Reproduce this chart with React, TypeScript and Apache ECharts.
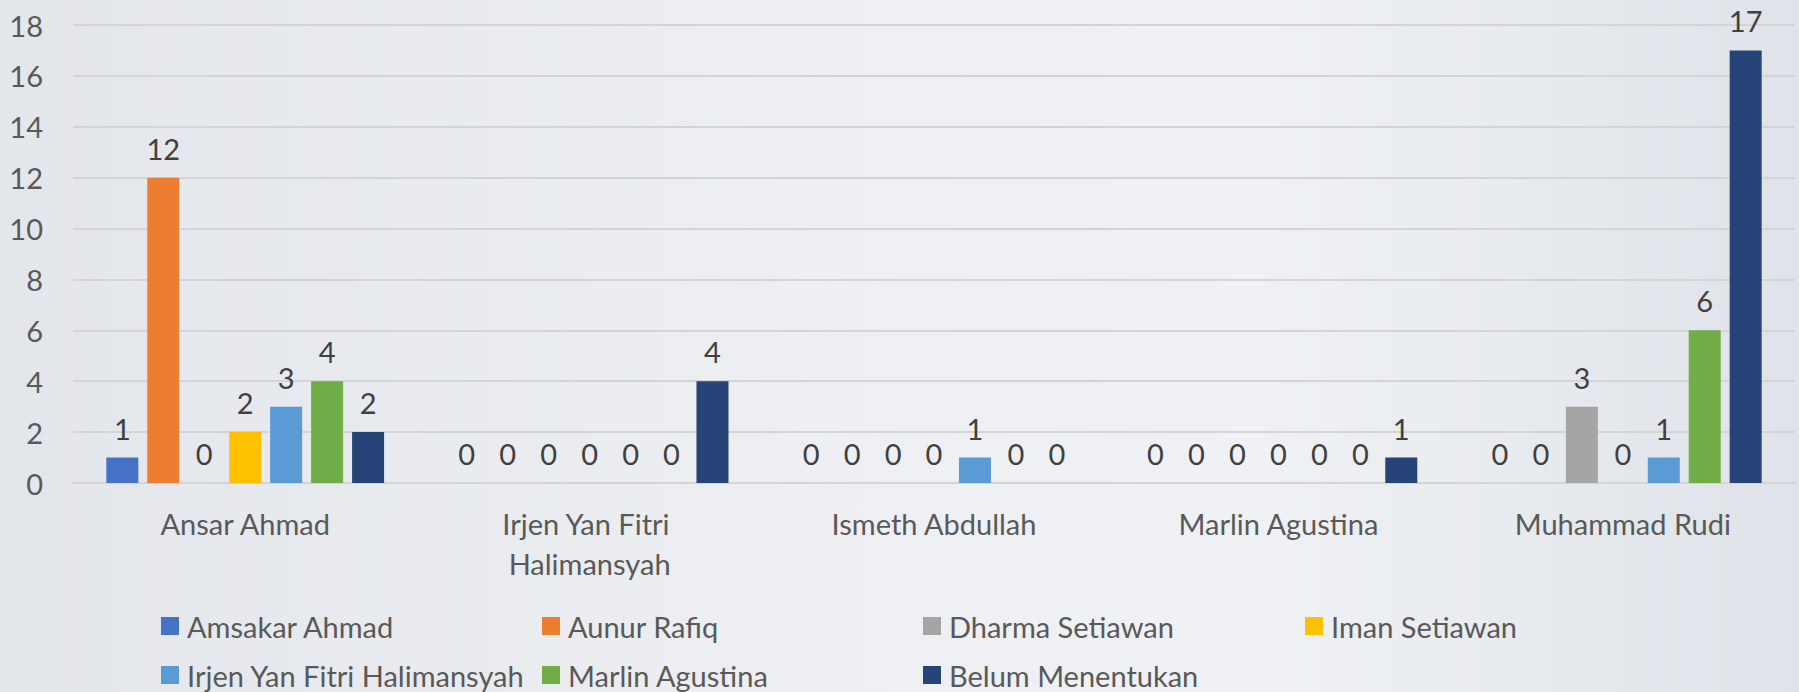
import React, { useEffect, useRef } from "react";
import * as echarts from "echarts";

const categories = [
  "Ansar Ahmad",
  "Irjen Yan Fitri Halimansyah",
  "Ismeth Abdullah",
  "Marlin Agustina",
  "Muhammad Rudi",
];

const seriesNames = [
  "Amsakar Ahmad",
  "Aunur Rafiq",
  "Dharma Setiawan",
  "Iman Setiawan",
  "Irjen Yan Fitri Halimansyah",
  "Marlin Agustina",
  "Belum Menentukan",
];

const amsakarAhmad = [1, 0, 0, 0, 0];
const aunurRafiq = [12, 0, 0, 0, 0];
const dharmaSetiawan = [0, 0, 0, 0, 3];
const imanSetiawan = [2, 0, 0, 0, 0];
const irjenYanFitri = [3, 0, 1, 0, 1];
const marlinAgustina = [4, 0, 0, 0, 6];
const belumMenentukan = [2, 4, 0, 1, 17];

const seriesValues = [
  amsakarAhmad,
  aunurRafiq,
  dharmaSetiawan,
  imanSetiawan,
  irjenYanFitri,
  marlinAgustina,
  belumMenentukan,
];

const colors = ["#4472C4", "#ED7D31", "#A5A5A5", "#FFC000", "#5B9BD5", "#70AD47", "#264478"];

const yTicks = { min: 0, max: 18, interval: 2 };

const FONT = "Lato, 'Noto Sans', sans-serif";
const FS = 29;

// legend positions (layout only)
const legendPos = [
  [161, 611],
  [542, 611],
  [923, 611],
  [1305, 611],
  [161, 660],
  [542, 660],
  [923, 660],
];

export default function App() {
  const ref = useRef<HTMLDivElement>(null);

  useEffect(() => {
    document.body.style.margin = "0";
    if (!ref.current) return;
    const chart = echarts.init(ref.current, undefined, { renderer: "svg" });

    const option: any = {
      animation: false,
      backgroundColor: new echarts.graphic.LinearGradient(0, 0, 1, 0, [
        { offset: 0, color: "#e3e6eb" },
        { offset: 0.45, color: "#edeff2" },
        { offset: 0.7, color: "#eff1f4" },
        { offset: 1, color: "#dfe3e9" },
      ]),
      textStyle: { fontFamily: FONT },
      grid: { left: 73, right: 4, top: 25, bottom: 209, containLabel: false },
      legend: seriesNames.map((name, i) => ({
        data: [name],
        left: legendPos[i][0],
        top: legendPos[i][1],
        padding: 0,
        itemWidth: 18,
        itemHeight: 18,
        icon: "rect",
        selectedMode: false,
        textStyle: {
          fontFamily: FONT,
          fontSize: FS,
          color: "#595959",
          lineHeight: 30,
          padding: [0, 0, 0, 3],
        },
      })),
      xAxis: {
        type: "category",
        data: categories,
        axisLine: { show: true, lineStyle: { color: "#d4d4d4", width: 2 } },
        axisTick: { show: false },
        axisLabel: {
          interval: 0,
          fontFamily: FONT,
          fontSize: FS,
          color: "#595959",
          lineHeight: 40,
          margin: 20,
          width: 270,
          overflow: "break",
        },
      },
      yAxis: {
        type: "value",
        min: yTicks.min,
        max: yTicks.max,
        interval: yTicks.interval,
        axisLine: { show: false },
        axisTick: { show: false },
        splitLine: { lineStyle: { color: "#d4d4d4", width: 2 } },
        axisLabel: {
          fontFamily: FONT,
          fontSize: FS,
          color: "#595959",
          margin: 30,
        },
      },
      series: seriesNames.map((name, i) => ({
        name,
        type: "bar",
        data: seriesValues[i],
        barWidth: 32,
        barGap: "28%",
        itemStyle: { color: colors[i] },
        label: {
          show: true,
          position: "top",
          distance: 15,
          fontFamily: FONT,
          fontSize: FS,
          color: "#404040",
        },
      })),
    };

    chart.setOption(option);
    return () => chart.dispose();
  }, []);

  return (
    <div
      ref={ref}
      style={{ position: "absolute", left: 0, top: 0, width: 1799, height: 692 }}
    />
  );
}
